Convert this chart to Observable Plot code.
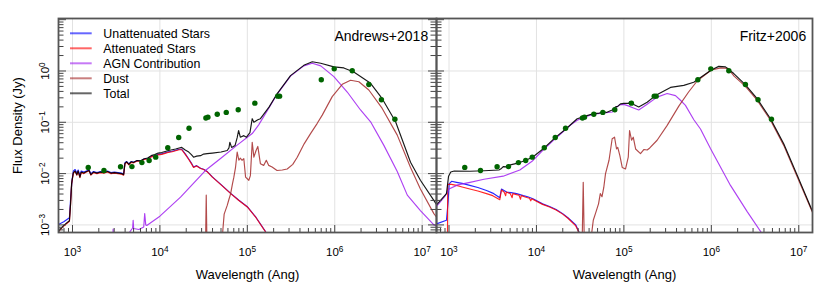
<!DOCTYPE html>
<html><head><meta charset="utf-8">
<script src="https://cdn.jsdelivr.net/npm/d3@7"></script>
<script src="https://cdn.jsdelivr.net/npm/@observablehq/plot@0.6"></script>
<style>
html,body{margin:0;padding:0;background:#fff;}
#wrap{position:relative;width:830px;height:291px;overflow:hidden;font-family:"Liberation Sans",Arial,Helvetica,sans-serif;}
#wrap svg{position:absolute;top:0;overflow:visible;}
</style></head><body><div id="wrap"></div>
<script>
// ---------------- DATA ----------------
// Observed photometry (shared by both panels): wavelength (Angstrom), flux density (Jy)
const obsWave = [1514, 2291, 3548, 4786, 6223, 7534, 8954, 12300, 16410, 21530, 33570, 35400, 45290, 57410, 78700, 121900, 222300, 233900, 701500, 986000, 1585000, 2455000, 3420000, 4875000];
const obsFlux = [0.0132, 0.0115, 0.0136, 0.0137, 0.0164, 0.0180, 0.0209, 0.0318, 0.0506, 0.0767, 0.121, 0.126, 0.143, 0.156, 0.175, 0.236, 0.323, 0.323, 0.673, 1.10, 1.01, 0.546, 0.275, 0.115];

// Model curves as [log10 wavelength (Ang), log10 flux (Jy)]
const andrewsUnatt = [[2.84,-2.99],[2.90,-2.94],[2.965,-2.86],[2.98,-2.45],[2.995,-2.12],[3.01,-1.95],[3.03,-1.92],[3.05,-1.99],[3.065,-1.93],[3.085,-2.03],[3.10,-1.95],[3.13,-1.97],[3.16,-1.95],[3.19,-1.93],[3.21,-2.0],[3.24,-1.96],[3.28,-1.98],[3.32,-1.96],[3.36,-1.97],[3.40,-1.95],[3.44,-1.98],[3.48,-1.97],[3.52,-1.98],[3.56,-1.99],[3.585,-2.01],[3.60,-1.79],[3.62,-1.765],[3.645,-1.81],[3.67,-1.765],[3.70,-1.78],[3.74,-1.745],[3.78,-1.755],[3.82,-1.715],[3.86,-1.705],[3.90,-1.665],[3.94,-1.655],[3.98,-1.625],[4.02,-1.615],[4.06,-1.595],[4.10,-1.575],[4.14,-1.565],[4.18,-1.545],[4.22,-1.525],[4.25,-1.525],[4.29,-1.615],[4.33,-1.715],[4.36,-1.795],[4.385,-1.87],[4.42,-1.845],[4.465,-1.895],[4.50,-1.915],[4.545,-1.965],[4.60,-2.065],[4.70,-2.215],[4.81,-2.385],[4.90,-2.515],[5.0,-2.645],[5.10,-2.855],[5.21,-3.135],[5.30,-3.35]];
const andrewsAtt = [[2.84,-3.13],[2.90,-3.02],[2.965,-2.93],[2.978,-2.60],[2.99,-2.2],[3.01,-1.99],[3.03,-1.96],[3.05,-2.03],[3.065,-1.96],[3.085,-2.08],[3.10,-1.98],[3.13,-2.0],[3.16,-1.97],[3.19,-1.95],[3.21,-2.03],[3.24,-1.98],[3.28,-2.0],[3.32,-1.98],[3.36,-1.99],[3.40,-1.97],[3.44,-2.0],[3.48,-1.99],[3.52,-2.0],[3.56,-2.01],[3.585,-2.03],[3.60,-1.81],[3.62,-1.78],[3.645,-1.83],[3.67,-1.78],[3.70,-1.79],[3.74,-1.755],[3.78,-1.765],[3.82,-1.725],[3.86,-1.715],[3.90,-1.675],[3.94,-1.665],[3.98,-1.635],[4.02,-1.625],[4.06,-1.605],[4.10,-1.585],[4.14,-1.575],[4.18,-1.555],[4.22,-1.535],[4.25,-1.535],[4.29,-1.625],[4.33,-1.725],[4.36,-1.805],[4.385,-1.88],[4.42,-1.85],[4.465,-1.90],[4.50,-1.92],[4.545,-1.97],[4.60,-2.07],[4.70,-2.22],[4.81,-2.39],[4.90,-2.52],[5.0,-2.65],[5.10,-2.86],[5.21,-3.14],[5.30,-3.35]];
const andrewsAGN = [[3.455,-3.5],[3.465,-3.08],[3.475,-3.5],[3.60,-3.45],[3.65,-3.15],[3.688,-3.06],[3.694,-2.91],[3.70,-3.07],[3.76,-3.09],[3.815,-3.04],[3.826,-2.78],[3.838,-3.0],[3.85,-3.01],[4.0,-2.83],[4.236,-2.46],[4.52,-1.94],[4.69,-1.71],[4.88,-1.45],[5.056,-1.22],[5.13,-1.05],[5.24,-0.74],[5.342,-0.45],[5.494,-0.10],[5.646,0.10],[5.743,0.15],[5.84,0.10],[5.99,-0.11],[6.143,-0.41],[6.295,-0.76],[6.41,-0.99],[6.562,-1.45],[6.715,-1.96],[6.83,-2.42],[6.98,-2.72],[7.134,-3.0],[7.17,-3.02]];
const andrewsDust = [[4.52,-3.6],[4.53,-2.42],[4.54,-3.6],[4.705,-3.6],[4.72,-3.1],[4.735,-2.79],[4.77,-2.62],[4.79,-2.50],[4.808,-2.40],[4.83,-2.2],[4.846,-2.07],[4.865,-1.88],[4.884,-1.58],[4.903,-1.74],[4.92,-1.70],[4.94,-1.74],[4.96,-1.71],[4.98,-2.07],[5.017,-2.13],[5.035,-2.04],[5.056,-1.39],[5.075,-1.68],[5.10,-1.55],[5.12,-1.47],[5.15,-1.81],[5.187,-1.84],[5.217,-1.74],[5.245,-1.84],[5.283,-1.87],[5.34,-1.94],[5.40,-1.93],[5.456,-1.91],[5.52,-1.82],[5.571,-1.68],[5.65,-1.42],[5.723,-1.22],[5.80,-1.02],[5.857,-0.86],[5.971,-0.50],[6.086,-0.26],[6.181,-0.18],[6.276,-0.21],[6.39,-0.37],[6.543,-0.73],[6.715,-1.25],[6.867,-1.88],[6.98,-2.30],[7.134,-2.78],[7.17,-2.86]];
const andrewsTotal = [[2.84,-3.12],[2.90,-3.01],[2.965,-2.92],[2.978,-2.59],[2.99,-2.19],[3.01,-1.98],[3.03,-1.95],[3.05,-2.02],[3.065,-1.95],[3.085,-2.07],[3.10,-1.97],[3.13,-1.99],[3.16,-1.96],[3.19,-1.94],[3.21,-2.02],[3.24,-1.97],[3.28,-1.99],[3.32,-1.97],[3.36,-1.98],[3.40,-1.96],[3.44,-1.99],[3.48,-1.98],[3.52,-1.99],[3.56,-2.0],[3.585,-2.02],[3.60,-1.80],[3.62,-1.77],[3.645,-1.82],[3.67,-1.77],[3.70,-1.78],[3.74,-1.745],[3.78,-1.75],[3.82,-1.71],[3.86,-1.695],[3.90,-1.65],[3.94,-1.63],[3.98,-1.60],[4.02,-1.59],[4.06,-1.57],[4.10,-1.55],[4.14,-1.535],[4.18,-1.52],[4.22,-1.50],[4.25,-1.49],[4.29,-1.54],[4.33,-1.58],[4.36,-1.63],[4.385,-1.68],[4.42,-1.66],[4.465,-1.65],[4.50,-1.62],[4.54,-1.61],[4.60,-1.60],[4.70,-1.58],[4.77,-1.55],[4.79,-1.50],[4.80,-1.39],[4.82,-1.49],[4.86,-1.45],[4.884,-1.30],[4.90,-1.16],[4.92,-1.29],[4.96,-1.26],[4.99,-1.29],[5.03,-1.20],[5.056,-0.93],[5.075,-1.0],[5.12,-0.95],[5.15,-0.93],[5.25,-0.70],[5.342,-0.44],[5.494,-0.09],[5.646,0.11],[5.743,0.18],[5.84,0.15],[5.99,0.08],[6.104,0.06],[6.218,-0.02],[6.41,-0.24],[6.543,-0.54],[6.696,-0.99],[6.867,-1.78],[6.98,-2.13],[7.164,-2.60]];

const fritzUnatt = [[2.857,-2.98],[2.971,-2.91],[2.99,-2.55],[3.002,-2.20],[3.029,-2.15],[3.086,-2.17],[3.15,-2.19],[3.238,-2.23],[3.33,-2.27],[3.429,-2.33],[3.50,-2.38],[3.581,-2.47],[3.60,-2.30],[3.658,-2.36],[3.71,-2.37],[3.772,-2.39],[3.85,-2.43],[3.90,-2.45],[3.96,-2.49],[4.07,-2.59],[4.15,-2.64],[4.225,-2.70],[4.30,-2.78],[4.36,-2.86],[4.45,-3.0],[4.49,-3.15],[4.52,-3.3]];
const fritzAtt = [[2.982,-3.6],[2.985,-2.21],[3.029,-2.21],[3.086,-2.23],[3.15,-2.26],[3.238,-2.30],[3.33,-2.34],[3.429,-2.39],[3.50,-2.43],[3.581,-2.51],[3.60,-2.32],[3.63,-2.36],[3.648,-2.43],[3.655,-2.36],[3.70,-2.39],[3.722,-2.47],[3.73,-2.39],[3.772,-2.41],[3.80,-2.42],[3.818,-2.50],[3.826,-2.43],[3.88,-2.46],[3.92,-2.48],[3.935,-2.53],[3.945,-2.49],[4.07,-2.60],[4.15,-2.65],[4.225,-2.71],[4.30,-2.79],[4.36,-2.87],[4.45,-3.02],[4.49,-3.16],[4.52,-3.3]];
const fritzAGN = [[2.857,-2.64],[2.95,-2.45],[3.0,-2.30],[3.10,-2.22],[3.24,-2.17],[3.40,-2.11],[3.62,-2.05],[3.81,-1.93],[3.95,-1.76],[4.07,-1.55],[4.221,-1.31],[4.393,-1.05],[4.466,-0.96],[4.56,-0.89],[4.656,-0.84],[4.75,-0.82],[4.866,-0.80],[4.904,-0.72],[4.95,-0.66],[4.999,-0.65],[5.05,-0.68],[5.095,-0.71],[5.17,-0.76],[5.266,-0.65],[5.38,-0.51],[5.495,-0.44],[5.59,-0.48],[5.647,-0.57],[5.704,-0.67],[5.80,-0.95],[5.876,-1.13],[5.99,-1.51],[6.219,-2.23],[6.41,-2.74],[6.58,-3.17],[6.62,-3.3]];
const fritzDust = [[4.52,-3.6],[4.535,-2.17],[4.55,-3.6],[4.60,-3.6],[4.65,-2.91],[4.68,-2.75],[4.71,-2.59],[4.73,-2.39],[4.75,-2.45],[4.77,-2.27],[4.79,-2.0],[4.83,-1.74],[4.866,-1.32],[4.893,-1.29],[4.916,-1.52],[4.93,-1.49],[4.954,-1.65],[4.981,-1.88],[5.019,-1.91],[5.05,-1.68],[5.065,-1.16],[5.088,-1.35],[5.107,-1.29],[5.134,-1.52],[5.19,-1.61],[5.23,-1.53],[5.266,-1.54],[5.296,-1.50],[5.38,-1.35],[5.495,-1.06],[5.63,-0.68],[5.74,-0.41],[5.84,-0.19],[6.0,0.02],[6.11,0.06],[6.19,0.05],[6.26,-0.10],[6.39,-0.30],[6.524,-0.57],[6.677,-0.96],[6.828,-1.45],[6.982,-2.06],[7.16,-2.77]];
const fritzTotal = [[2.857,-2.61],[2.971,-2.39],[2.995,-2.05],[3.02,-1.97],[3.06,-1.95],[3.24,-1.955],[3.40,-1.945],[3.57,-1.93],[3.60,-1.90],[3.62,-1.865],[3.66,-1.87],[3.68,-1.84],[3.726,-1.82],[3.80,-1.79],[3.878,-1.74],[3.955,-1.68],[4.089,-1.50],[4.221,-1.29],[4.336,-1.13],[4.466,-0.93],[4.56,-0.88],[4.656,-0.83],[4.72,-0.82],[4.77,-0.79],[4.80,-0.81],[4.866,-0.76],[4.904,-0.70],[4.93,-0.69],[4.961,-0.64],[5.00,-0.63],[5.056,-0.63],[5.065,-0.60],[5.095,-0.64],[5.17,-0.70],[5.266,-0.61],[5.361,-0.48],[5.533,-0.32],[5.685,-0.28],[5.799,-0.22],[5.856,-0.15],[6.0,0.02],[6.085,0.09],[6.162,0.08],[6.257,-0.05],[6.391,-0.27],[6.524,-0.54],[6.677,-0.93],[6.828,-1.42],[6.982,-2.03],[7.16,-2.75]];

const seriesNames = ["Unattenuated Stars", "Attenuated Stars", "AGN Contribution", "Dust", "Total"];
const seriesColors = ["#0000ff", "#ff0000", "#a020f0", "#a52a2a", "#000000"];
const panelTitles = ["Andrews+2018", "Fritz+2006"];
const xTickExps = [3, 4, 5, 6, 7];
const yTickExps = [-3, -2, -1, 0];
const xLabel = "Wavelength (Ang)";
const yLabel = "Flux Density (Jy)";

// ---------------- CHART ----------------
const FONT = '"Liberation Sans", Arial, Helvetica, sans-serif';
const SUP = "⁰¹²³⁴⁵⁶⁷⁸⁹";
const sup = e => String(e).split("").map(c => c === "-" ? "⁻" : SUP["0123456789".indexOf(c)]).join("");
const toPts = a => a.map(([l, f]) => ({w: 10 ** l, f: 10 ** f}));
const obs = obsWave.map((w, i) => ({w, f: obsFlux[i]}));
const yDomain = [10 ** -3.148, 10 ** 1.023];

function minorTicks(lo, hi, dmin, dmax) {
  const out = [];
  for (let k = lo; k <= hi; k++) for (let m = 2; m <= 9; m++) {
    const v = m * 10 ** k; if (v >= dmin && v <= dmax) out.push(v);
  }
  return out;
}

function panel({curves, title, xDomain, width, marginLeft, marginRight, left, titleDx, yLabels, rightTicks, leftTicks}) {
  const H = 291, mt = 18, mb = 59;
  const innerW = width - marginLeft - marginRight, innerH = H - mt - mb;
  const xMaj = xTickExps.map(e => 10 ** e);
  const yMaj = [-3, -2, -1, 0, 1].map(e => 10 ** e);
  const xMin = minorTicks(2, 7, xDomain[0], xDomain[1]);
  const yMin = minorTicks(-4, 0, yDomain[0], yDomain[1]);
  const tc = "#444";
  const marks = [
    Plot.ruleX(xMaj, {x: d => d, stroke: "#e2e2e2", strokeWidth: 1}),
    Plot.ruleY(yTickExps.map(e => 10 ** e), {y: d => d, stroke: "#e2e2e2", strokeWidth: 1}),
  ];
  const [u, a, g, d, t] = curves;
  [[u, 0], [a, 1], [g, 2], [d, 3], [t, 4]].forEach(([c, i]) => {
    marks.push(Plot.line(toPts(c), {x: "w", y: "f", stroke: seriesColors[i], strokeWidth: 1.15, strokeOpacity: i === 4 ? 0.9 : 0.85, clip: true}));
  });
  marks.push(Plot.dot(obs, {x: "w", y: "f", r: 2.7, fill: "#006400", stroke: "none", clip: true}));
  // ticks drawn inward
  marks.push(Plot.tickX(xMaj, {x: d => d, insetTop: innerH - 7, stroke: tc}));
  marks.push(Plot.tickX(xMin, {x: d => d, insetTop: innerH - 4, stroke: tc}));
  if (leftTicks) {
    marks.push(Plot.tickY(yMaj.filter(v => v <= yDomain[1]), {y: d => d, insetRight: innerW - 8, stroke: tc}));
    marks.push(Plot.tickY(yMin, {y: d => d, insetRight: innerW - 5.5, stroke: tc}));
  }
  if (rightTicks) {
    marks.push(Plot.tickY(yMaj.filter(v => v <= yDomain[1]), {y: d => d, insetLeft: innerW - 8, stroke: tc}));
    marks.push(Plot.tickY(yMin, {y: d => d, insetLeft: innerW - 5.5, stroke: tc}));
  }
  marks.push(Plot.frame({stroke: "#555", strokeWidth: 1.8}));
  marks.push(Plot.text(xTickExps, {x: e => 10 ** e, frameAnchor: "bottom", dy: 23, lineAnchor: "bottom", text: e => "10" + sup(e), fontSize: 11.5, fill: "#000"}));
  marks.push(Plot.text([xLabel], {frameAnchor: "bottom", dy: 46, lineAnchor: "bottom", text: d => d, fontSize: 13, fill: "#000"}));
  marks.push(Plot.text([title], {frameAnchor: "top-right", dx: titleDx, dy: 22.5, lineAnchor: "bottom", textAnchor: "end", text: d => d, fontSize: 14, fill: "#000"}));
  if (yLabels) {
    marks.push(Plot.text(yTickExps, {y: e => 10 ** e, frameAnchor: "left", dx: -10, rotate: -90, lineAnchor: "bottom", textAnchor: "middle", text: e => "10" + sup(e), fontSize: 11.5, fill: "#000"}));
    marks.push(Plot.text([yLabel], {frameAnchor: "left", dx: -36.5, rotate: -90, lineAnchor: "bottom", textAnchor: "middle", text: d => d, fontSize: 13, fill: "#000"}));
  }
  const svg = Plot.plot({
    width, height: H, marginLeft, marginRight, marginTop: mt, marginBottom: mb,
    x: {type: "log", domain: xDomain, axis: null},
    y: {type: "log", domain: yDomain, axis: null},
    style: {fontFamily: FONT, background: "transparent", overflow: "visible"},
    marks
  });
  svg.style.left = left + "px";
  return svg;
}

const wrap = document.getElementById("wrap");
wrap.appendChild(panel({
  curves: [andrewsUnatt, andrewsAtt, andrewsAGN, andrewsDust, andrewsTotal],
  title: panelTitles[0], xDomain: [10 ** 2.84, 10 ** 7.164],
  width: 436, marginLeft: 58, marginRight: 0, left: 0, titleDx: -8.3,
  yLabels: true, leftTicks: true, rightTicks: true
}));
wrap.appendChild(panel({
  curves: [fritzUnatt, fritzAtt, fritzAGN, fritzDust, fritzTotal],
  title: panelTitles[1], xDomain: [10 ** 2.857, 10 ** 7.157],
  width: 394, marginLeft: 0, marginRight: 18, left: 436, titleDx: -6.3,
  yLabels: false, leftTicks: true, rightTicks: false
}));

// legend (inside left panel)
const leg = d3.select(wrap).append("svg").attr("width", 830).attr("height", 291).style("left", "0px").style("pointer-events", "none");
seriesNames.forEach((name, i) => {
  const y = 33.3 + 15 * i;
  leg.append("line").attr("x1", 70).attr("x2", 91.7).attr("y1", y).attr("y2", y)
    .attr("stroke", seriesColors[i]).attr("stroke-opacity", 0.6).attr("stroke-width", 2);
  leg.append("text").attr("x", 103.3).attr("y", y + 5).attr("font-family", FONT).attr("font-size", 12.4).attr("fill", "#000").text(name);
});

// turn unicode exponents into real superscript tspans
const SVGNS = "http://www.w3.org/2000/svg";
wrap.querySelectorAll("text").forEach(t => {
  const m = t.textContent.match(/^10([⁻⁰¹²³⁴⁵⁶⁷⁸⁹]+)$/);
  if (!m) return;
  const exp = [...m[1]].map(c => c === "⁻" ? "−" : String(SUP.indexOf(c))).join("");
  t.textContent = "10";
  const ts = document.createElementNS(SVGNS, "tspan");
  ts.setAttribute("dy", "-0.45em");
  ts.setAttribute("font-size", "0.72em");
  ts.textContent = exp;
  t.appendChild(ts);
});
</script></body></html>
